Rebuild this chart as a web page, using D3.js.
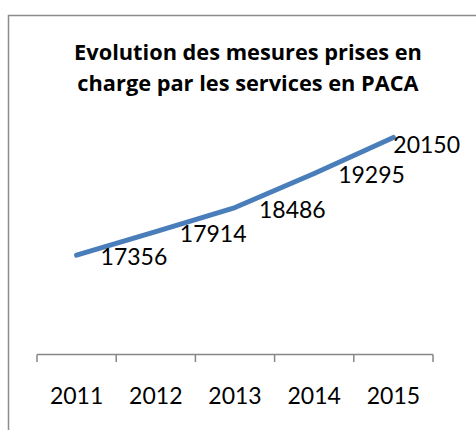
<!DOCTYPE html>
<html>
<head>
<meta charset="utf-8">
<script src="https://cdn.jsdelivr.net/npm/d3@7"></script>
<style>
  body { margin: 0; background: #fff; }
  svg { display: block; }
</style>
</head>
<body>
<svg id="chart" width="476" height="430"></svg>
<script>
const years = ["2011", "2012", "2013", "2014", "2015"];
const mesures = [17356, 17914, 18486, 19295, 20150];
const titleLines = ["Evolution des mesures prises en", "charge par les services en PACA"];

const W = 476, H = 430;
const plot = { left: 37, right: 433, top: 101.6, bottom: 354.5 };

const svg = d3.select('#chart');

// outer frame (runs past the right and bottom edges)
svg.append('rect')
  .attr('x', 8.5).attr('y', 15.5)
  .attr('width', 480).attr('height', 440)
  .style('fill', 'white').style('stroke', '#8c8c8c').style('stroke-width', 1.5);

// title
const title = svg.append('g').selectAll('text')
  .data(titleLines)
  .enter().append('text')
  .attr('x', 248)
  .attr('y', (d, i) => 60 + i * 31)
  .attr('text-anchor', 'middle')
  .style('font-family', '"Open Sans", sans-serif')
  .style('font-weight', 'bold')
  .style('font-size', '20px')
  .style('fill', '#000')
  .text(d => d);

// fit the first line to ~348px like the original
const tw = title.node().getComputedTextLength();
title.style('font-size', (20 * 348 / tw).toFixed(2) + 'px');

const xBand = d3.scaleBand().domain(years).range([plot.left, plot.right]);
const x = d => xBand(d) + xBand.bandwidth() / 2;
const y = d3.scaleLinear().domain([15000, 21000]).range([plot.bottom, plot.top]);

// category axis
const axis = svg.append('g').style('stroke', '#868686').style('stroke-width', 1.5);
axis.append('line')
  .attr('x1', plot.left).attr('x2', plot.right)
  .attr('y1', plot.bottom).attr('y2', plot.bottom);
axis.selectAll('.tick')
  .data(years.map(d => xBand(d)).concat([plot.right]))
  .enter().append('line')
  .attr('x1', d => d).attr('x2', d => d)
  .attr('y1', plot.bottom).attr('y2', plot.bottom + 7.5);

svg.append('g').selectAll('text')
  .data(years)
  .enter().append('text')
  .attr('x', d => x(d))
  .attr('y', 404)
  .attr('text-anchor', 'middle')
  .style('font-family', 'Lato, sans-serif')
  .style('font-size', '23px')
  .style('fill', '#000')
  .text(d => d);

// series
const pts = years.map((d, i) => ({ year: d, value: mesures[i] }));
svg.append('path')
  .datum(pts)
  .attr('d', d3.line().x(d => x(d.year)).y(d => y(d.value)))
  .style('fill', 'none')
  .style('stroke', '#4a7ebb')
  .style('stroke-width', 5)
  .style('stroke-linecap', 'round')
  .style('stroke-linejoin', 'round');

// data labels, right of the point; pulled back inside if they would spill out
const labels = svg.append('g').selectAll('text')
  .data(pts)
  .enter().append('text')
  .attr('x', d => x(d.year) + 24)
  .attr('y', d => y(d.value) + 10)
  .style('font-family', 'Lato, sans-serif')
  .style('font-size', '23px')
  .style('fill', '#000')
  .text(d => d.value);

labels.each(function(d) {
  const t = d3.select(this);
  const w = this.getComputedTextLength();
  const x0 = x(d.year) + 24;
  if (x0 + w > 460) {
    t.attr('x', 460 - w).attr('y', y(d.value) + 16);
  }
});
</script>
</body>
</html>
